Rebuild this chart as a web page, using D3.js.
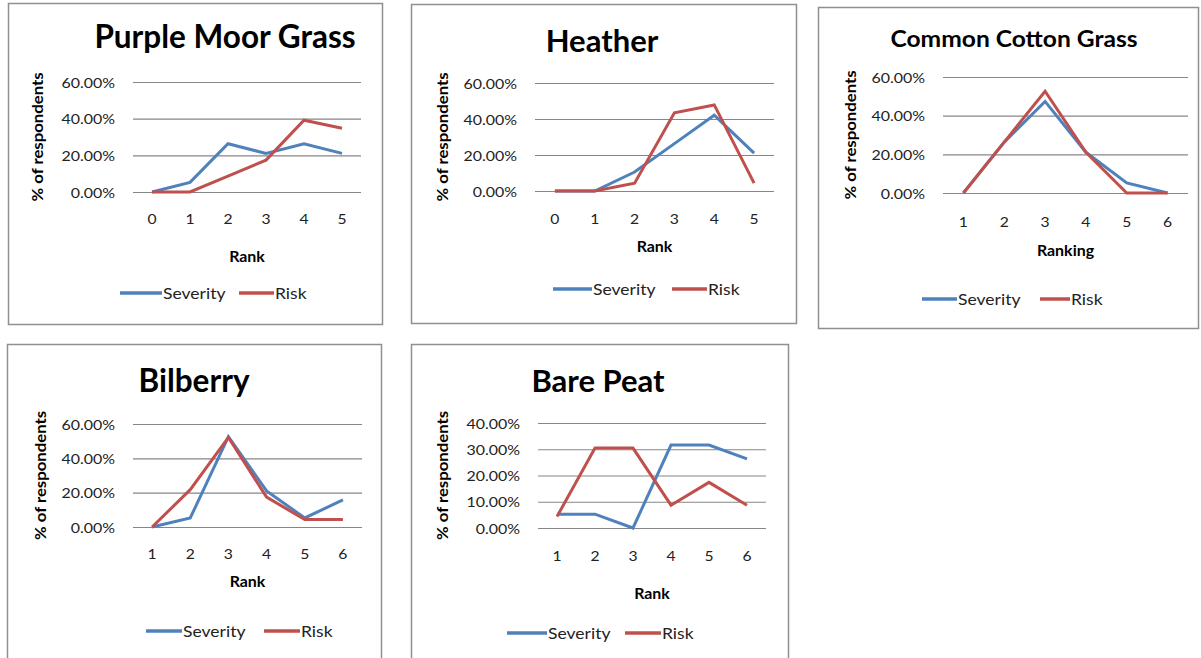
<!DOCTYPE html>
<html>
<head>
<meta charset="utf-8">
<script src="https://cdn.jsdelivr.net/npm/d3@7"></script>
<style>
  html, body { margin: 0; padding: 0; background: #ffffff; }
  svg { display: block; }
  text { font-family: Lato, "Open Sans", sans-serif; fill: #000; }
</style>
</head>
<body>
<svg id="chart" width="1201" height="658"></svg>
<script>
// ---- data -------------------------------------------------------------
const titles = ["Purple Moor Grass", "Heather", "Common Cotton Grass", "Bilberry", "Bare Peat"];
const xTitles = ["Rank", "Rank", "Ranking", "Rank", "Rank"];
const yTitle = "% of respondents";
const seriesNames = ["Severity", "Risk"];

const ranksFrom0 = ["0", "1", "2", "3", "4", "5"];
const ranksFrom1 = ["1", "2", "3", "4", "5", "6"];

const ticks60 = [0, 20, 40, 60];
const ticks40 = [0, 10, 20, 30, 40];

// percentages of respondents per rank
const severityMoorGrass = [0, 5.26, 26.32, 21.05, 26.32, 21.05];
const riskMoorGrass     = [0, 0, 8.70, 17.39, 39.13, 34.78];

const severityHeather = [0, 0, 10.53, 26.32, 42.11, 21.05];
const riskHeather     = [0, 0, 4.35, 43.48, 47.83, 4.35];

const severityCotton = [0, 26.32, 47.37, 21.05, 5.26, 0];
const riskCotton     = [0, 26.32, 52.63, 21.05, 0, 0];

const severityBilberry = [0, 5.26, 52.63, 21.05, 5.26, 15.79];
const riskBilberry     = [0, 21.74, 52.17, 17.39, 4.35, 4.35];

const severityBarePeat = [5.26, 5.26, 0, 31.58, 31.58, 26.32];
const riskBarePeat     = [4.35, 30.43, 30.43, 8.70, 17.39, 8.70];

const colors = { Severity: "#4f81bd", Risk: "#c0504d" };

// ---- layout of each chart box ----------------------------------------
const panels = [
  { title: titles[0], xTitle: xTitles[0], cats: ranksFrom0, ticks: ticks60,
    sev: severityMoorGrass, risk: riskMoorGrass,
    frame: [8, 3, 382, 324], plot: [133, 82, 361, 192],
    titleX: 225, titleY: 48, titleSize: 31.5, titleSx: 1, yTitleX: 37,
    xLabY: 218, xTitleY: 256, legY: 293, leg: [120, 162, 239, 274] },
  { title: titles[1], xTitle: xTitles[1], cats: ranksFrom0, ticks: ticks60,
    sev: severityHeather, risk: riskHeather,
    frame: [411, 4, 796, 323], plot: [535, 83, 774, 191],
    titleX: 602, titleY: 52, titleSize: 31, titleSx: 1, yTitleX: 442,
    xLabY: 218, xTitleY: 246, legY: 289, leg: [553, 592, 672, 707] },
  { title: titles[2], xTitle: xTitles[2], cats: ranksFrom1, ticks: ticks60,
    sev: severityCotton, risk: riskCotton,
    frame: [818, 7, 1198, 328], plot: [943, 77, 1188, 193],
    titleX: 1014, titleY: 47, titleSize: 23, titleSx: 1.07, yTitleX: 850,
    xLabY: 221, xTitleY: 250, legY: 299, leg: [922, 957, 1040, 1070] },
  { title: titles[3], xTitle: xTitles[3], cats: ranksFrom1, ticks: ticks60,
    sev: severityBilberry, risk: riskBilberry,
    frame: [7, 344, 381, 670], plot: [133, 424, 362, 527],
    titleX: 194, titleY: 392, titleSize: 31.5, titleSx: 1, yTitleX: 40,
    xLabY: 553, xTitleY: 581, legY: 631, leg: [146, 182, 264, 300] },
  { title: titles[4], xTitle: xTitles[4], cats: ranksFrom1, ticks: ticks40,
    sev: severityBarePeat, risk: riskBarePeat,
    frame: [411, 344, 788, 670], plot: [538, 423, 766, 528],
    titleX: 598, titleY: 392, titleSize: 31, titleSx: 1, yTitleX: 442,
    xLabY: 555, xTitleY: 593, legY: 633, leg: [507, 547, 625, 661] }
];

const svg = d3.select("#chart");

// horizontally widened text, anchored at (x, y)
function label(parent, x, y, str, opts) {
  const g = parent.append("g")
    .attr("transform", `translate(${x},${y}) scale(${opts.sx || 1},1)`);
  const t = g.append("text")
    .attr("text-anchor", opts.anchor || "start")
    .attr("dominant-baseline", opts.baseline || "auto")
    .style("font-size", opts.size + "px")
    .style("font-weight", opts.bold ? 700 : 400)
    .text(str);
  if (opts.fill) t.style("fill", opts.fill);
  return g;
}

panels.forEach(p => {
  const g = svg.append("g");
  const [fx0, fy0, fx1, fy1] = p.frame;
  const [px0, py0, px1, py1] = p.plot;

  g.append("rect")
    .attr("x", fx0 + 0.5).attr("y", fy0 + 0.5)
    .attr("width", fx1 - fx0).attr("height", fy1 - fy0)
    .attr("fill", "#fff").attr("stroke", "#8f8f8f").attr("stroke-width", 1.5);

  const yMax = d3.max(p.ticks);
  const x = d3.scalePoint().domain(p.cats).range([px0, px1]).padding(0.5);
  const y = d3.scaleLinear().domain([0, yMax]).range([py1, py0]);

  // gridlines and percentage tick labels
  const yAxis = d3.axisLeft(y).tickValues(p.ticks).tickSize(-(px1 - px0)).tickFormat("");
  g.append("g").attr("transform", `translate(${px0},0)`).call(yAxis)
    .call(a => a.select(".domain").remove())
    .call(a => a.selectAll("line").attr("stroke", "#868686").attr("stroke-width", 1.2));
  p.ticks.forEach(v => {
    label(g, px0 - 18, y(v), d3.format(".2f")(v) + "%",
      { anchor: "end", baseline: "central", size: 14, sx: 1.14, fill: "#222" });
  });

  // category labels
  p.cats.forEach(c => {
    label(g, x(c), p.xLabY, c, { anchor: "middle", baseline: "central", size: 14, sx: 1.12, fill: "#222" });
  });

  // titles
  label(g, p.titleX, p.titleY, p.title, { anchor: "middle", size: p.titleSize, bold: true, sx: p.titleSx });
  label(g, (px0 + px1) / 2, p.xTitleY, p.xTitle, { anchor: "middle", baseline: "central", size: 14.5, bold: true, sx: 1.1 });
  const yt = g.append("g")
    .attr("transform", `translate(${p.yTitleX},${(py0 + py1) / 2}) rotate(-90) scale(1.08,1)`);
  yt.append("text").attr("text-anchor", "middle").attr("dominant-baseline", "central")
    .style("font-size", "15.5px").style("font-weight", 700).text(yTitle);

  // series lines
  const line = d3.line().x((d, i) => x(p.cats[i])).y(d => y(d));
  [["Severity", p.sev], ["Risk", p.risk]].forEach(([name, vals]) => {
    g.append("path").datum(vals)
      .attr("d", line)
      .attr("fill", "none")
      .attr("stroke", colors[name])
      .attr("stroke-width", 3)
      .attr("stroke-linejoin", "miter");
  });

  // legend
  const [b0, b1, r0, r1] = p.leg;
  g.append("line").attr("x1", b0).attr("x2", b1).attr("y1", p.legY).attr("y2", p.legY)
    .attr("stroke", colors.Severity).attr("stroke-width", 3.5);
  label(g, b1 + 1, p.legY, seriesNames[0], { baseline: "central", size: 15, sx: 1.17, fill: "#222" });
  g.append("line").attr("x1", r0).attr("x2", r1).attr("y1", p.legY).attr("y2", p.legY)
    .attr("stroke", colors.Risk).attr("stroke-width", 3.5);
  label(g, r1 + 1, p.legY, seriesNames[1], { baseline: "central", size: 15, sx: 1.17, fill: "#222" });
});
</script>
</body>
</html>
